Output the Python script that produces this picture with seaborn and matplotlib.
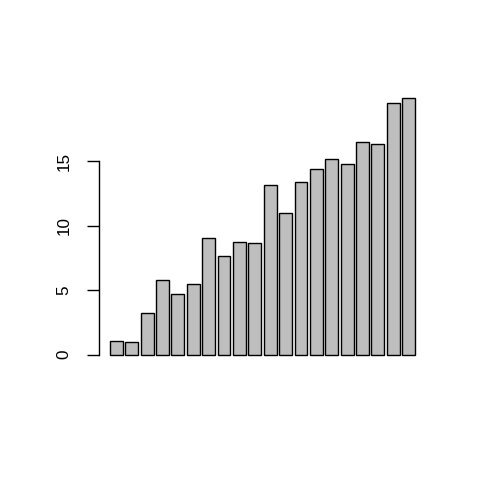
import matplotlib
matplotlib.use("Agg")
import matplotlib.pyplot as plt
import seaborn as sns
import pandas as pd

categories = [f"b{i+1}" for i in range(20)]
values = [1.08, 1.01, 3.20, 5.81, 4.70, 5.50, 9.01, 7.64, 8.75, 8.65,
          13.19, 11.02, 13.37, 14.43, 15.16, 14.82, 16.52, 16.34, 19.55, 19.88]
yticks = [0, 5, 10, 15]

sns.set_theme(style="white")
plt.rcParams['font.family'] = ['Liberation Sans', 'DejaVu Sans']

df = pd.DataFrame({"cat": categories, "val": values})

fig = plt.figure(figsize=(4.8, 4.8), dpi=100)
ax = fig.add_axes([95/480, 115/480, 335/480, 277/480])
sns.barplot(data=df, x="cat", y="val", color="#BEBEBE", saturation=1,
            width=1/1.2, edgecolor="black", linewidth=1.0, ax=ax, errorbar=None)
for p in ax.patches:
    p.set_facecolor("#BEBEBE")

ax.set_xlim(-1.39, 20.39)
ax.set_ylim(-0.795, 20.675)
ax.set_xlabel("")
ax.set_ylabel("")
ax.set_xticks([])
ax.set_yticks(yticks)
ax.set_yticklabels([str(t) for t in yticks])
for s in ["top", "right", "bottom"]:
    ax.spines[s].set_visible(False)
ax.spines["left"].set_bounds(0, 15)
ax.spines["left"].set_color("black")
ax.spines["left"].set_linewidth(1.0)
ax.spines["left"].set_position(("outward", -3))
ax.tick_params(axis="y", left=True, length=8.5, width=1.0, color="black",
               pad=11.5, labelcolor="black", labelsize=12.3, labelrotation=90)
for lab in ax.get_yticklabels():
    lab.set_verticalalignment("center")
ax.set_facecolor("white")
fig.patch.set_facecolor("white")
fig.savefig("out.png", dpi=100, facecolor="white")
